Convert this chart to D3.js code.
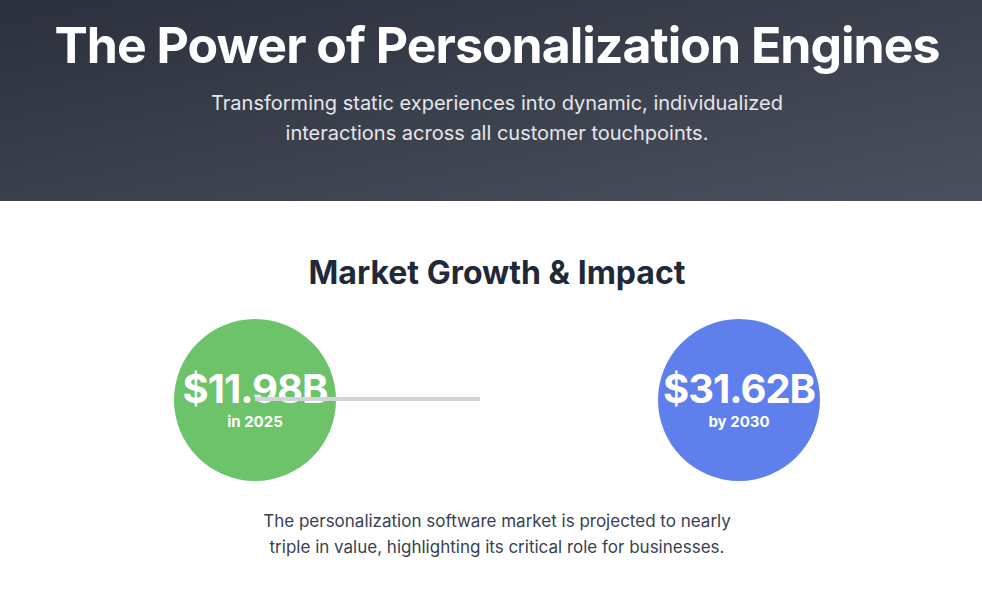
<!DOCTYPE html>
<html><head><meta charset="utf-8">
<script src="https://cdn.jsdelivr.net/npm/d3@7"></script>
<style>
body{margin:0;background:#fff;font-family:Inter,"Noto Sans",sans-serif;}
svg{display:block}
</style></head>
<body>
<svg id="chart"></svg>
<script>
const years = ["2025", "2030"]
const values = [11.98, 31.62]
const valueLabels = ["$11.98B", "$31.62B"]
const subLabels = ["in 2025", "by 2030"]
const colors = ["#6cc36a", "#5f7fec"]

const width = 982, height = 595
const svg = d3.select('#chart').attr('width', width).attr('height', height)

const defs = svg.append('defs')
const grad = defs.append('linearGradient').attr('id', 'hdr')
    .attr('x1', '0%').attr('y1', '0%').attr('x2', '100%').attr('y2', '100%')
grad.append('stop').attr('offset', '0%').attr('stop-color', '#2b303c')
grad.append('stop').attr('offset', '100%').attr('stop-color', '#4b505e')

svg.append('rect').attr('width', width).attr('height', 201).attr('fill', 'url(#hdr)')

svg.append('text').attr('x', 497).attr('y', 63).attr('text-anchor', 'middle')
    .attr('fill', '#fff').attr('font-size', 50).attr('font-weight', 700)
    .attr('letter-spacing', '-1px')
    .text('The Power of Personalization Engines')

const sub = ['Transforming static experiences into dynamic, individualized',
    'interactions across all customer touchpoints.']
svg.selectAll('.sub').data(sub).join('text').attr('class', 'sub')
    .attr('x', 497).attr('y', (d, i) => 110 + i * 30).attr('text-anchor', 'middle')
    .attr('fill', '#e5e7eb').attr('font-size', 20).text(d => d)

svg.append('text').attr('x', 497).attr('y', 284).attr('text-anchor', 'middle')
    .attr('fill', '#1f2937').attr('font-size', 32).attr('font-weight', 700)
    .text('Market Growth & Impact')

const x = d3.scalePoint().domain(years).range([255, 739])
const cy = 400, r = 81

const g = svg.selectAll('.bubble').data(years).join('g').attr('class', 'bubble')
    .attr('transform', d => `translate(${x(d)},${cy})`)
g.append('circle').attr('r', r).attr('fill', (d, i) => colors[i])
g.append('text').attr('text-anchor', 'middle').attr('y', 3)
    .attr('fill', '#fff').attr('font-size', 40).attr('font-weight', 700)
    .attr('letter-spacing', '-1px')
    .text((d, i) => valueLabels[i])
g.append('text').attr('text-anchor', 'middle').attr('y', 27)
    .attr('fill', '#fff').attr('font-size', 15).attr('font-weight', 700)
    .text((d, i) => subLabels[i])

// connector line drawn on top of the first bubble
svg.append('line').attr('x1', x(years[0])).attr('x2', 480)
    .attr('y1', 399).attr('y2', 399)
    .attr('stroke', '#d1d5db').attr('stroke-width', 4)

const note = ['The personalization software market is projected to nearly',
    'triple in value, highlighting its critical role for businesses.']
svg.selectAll('.note').data(note).join('text').attr('class', 'note')
    .attr('x', 497).attr('y', (d, i) => 527 + i * 26).attr('text-anchor', 'middle')
    .attr('fill', '#374151').attr('font-size', 17).text(d => d)
</script>
</body></html>
